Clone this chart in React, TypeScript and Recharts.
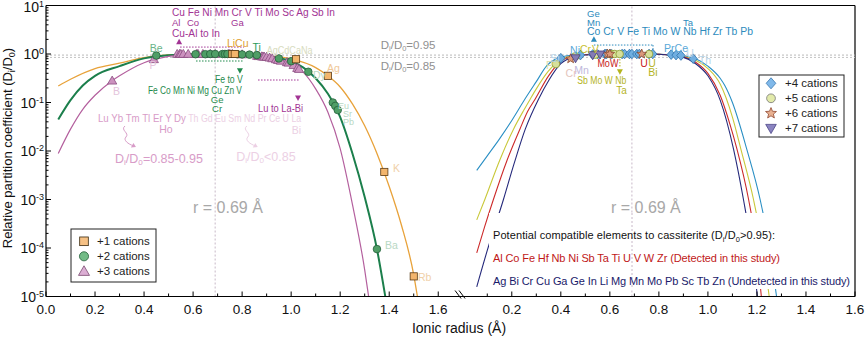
import React from 'react';
import { ComposedChart, Line, Scatter, XAxis, YAxis, ReferenceLine, ReferenceDot } from 'recharts';

const FONT = '"Liberation Sans", Arial, Helvetica, sans-serif';
const RIGHT_OFFSET = 1.7; // zero of the right panel on the shared x scale
const BREAK_X = 1.689;
const X_MAX = 3.3;

// ---------- fitted curves [ionic radius, D/D0] ----------
const curvePlus1: [number, number][] = [
  [0.05, 0.219], [0.1, 0.302], [0.2, 0.501], [0.3, 0.646], [0.4, 0.841], [0.5, 0.955], [0.6, 0.99], [0.7, 1.0],
  [0.8, 0.977], [0.9, 0.912], [1.0, 0.794], [1.1, 0.525], [1.15, 0.355], [1.2, 0.209], [1.25, 0.0933],
  [1.3, 0.0331], [1.35, 0.00891], [1.4, 0.00186], [1.45, 0.000295], [1.5, 2.8e-5], [1.515, 1e-5],
];
const curvePlus2: [number, number][] = [
  [0.05, 0.0447], [0.1, 0.112], [0.15, 0.224], [0.2, 0.355], [0.3, 0.562], [0.4, 0.813], [0.5, 0.944], [0.6, 0.99],
  [0.7, 1.0], [0.8, 0.977], [0.9, 0.891], [1.0, 0.708], [1.05, 0.525], [1.1, 0.316], [1.15, 0.151], [1.2, 0.0501],
  [1.25, 0.00891], [1.3, 0.00112], [1.35, 9.5e-5], [1.384, 1e-5],
];
const curvePlus3: [number, number][] = [
  [0.05, 0.00891], [0.1, 0.0282], [0.15, 0.0724], [0.2, 0.141], [0.27, 0.282], [0.3, 0.355], [0.4, 0.661],
  [0.5, 0.891], [0.6, 0.989], [0.7, 1.0], [0.8, 0.977], [0.9, 0.871], [1.0, 0.631], [1.05, 0.417], [1.1, 0.191],
  [1.15, 0.0631], [1.2, 0.0112], [1.25, 0.000794], [1.3, 3.55e-5], [1.316, 1e-5],
];
const curvePlus4: [number, number][] = [
  [0.057, 0.00398], [0.1, 0.00794], [0.15, 0.0178], [0.2, 0.0427], [0.25, 0.11], [0.3, 0.269], [0.343, 0.575],
  [0.38, 0.794], [0.42, 0.912], [0.5, 0.977], [0.6, 1.0], [0.7, 1.0], [0.8, 0.99], [0.9, 0.912], [0.95, 0.794],
  [1.0, 0.562], [1.05, 0.316], [1.07, 0.219], [1.1, 0.1], [1.159, 0.0107], [1.213, 0.001], [1.25, 0.000112], [1.28, 1e-5],
];
const curvePlus5: [number, number][] = [
  [0.057, 0.00038], [0.09, 0.001], [0.15, 0.00631], [0.207, 0.0282], [0.25, 0.0708], [0.275, 0.117], [0.3, 0.191],
  [0.35, 0.447], [0.4, 0.759], [0.45, 0.912], [0.5, 0.977], [0.6, 1.0], [0.7, 1.0], [0.8, 0.99], [0.9, 0.891],
  [0.95, 0.741], [1.0, 0.501], [1.05, 0.24], [1.1, 0.0501], [1.135, 0.0107], [1.186, 0.001], [1.22, 0.000126], [1.25, 1e-5],
];
const curvePlus6: [number, number][] = [
  [0.057, 7.94e-5], [0.09, 0.000282], [0.125, 0.001], [0.18, 0.00631], [0.233, 0.0282], [0.265, 0.0661], [0.295, 0.117],
  [0.35, 0.355], [0.4, 0.708], [0.45, 0.891], [0.5, 0.966], [0.6, 1.0], [0.7, 1.0], [0.8, 0.99], [0.9, 0.871],
  [0.95, 0.676], [1.0, 0.398], [1.05, 0.141], [1.09, 0.0355], [1.118, 0.0112], [1.166, 0.001], [1.19, 0.0002], [1.218, 1e-5],
];
const curvePlus7: [number, number][] = [
  [0.057, 1.58e-5], [0.1, 8.91e-5], [0.166, 0.001], [0.21, 0.00562], [0.255, 0.0282], [0.309, 0.117], [0.35, 0.282],
  [0.4, 0.631], [0.45, 0.871], [0.5, 0.955], [0.6, 1.0], [0.7, 1.0], [0.8, 0.99], [0.9, 0.851], [0.95, 0.631],
  [1.0, 0.355], [1.05, 0.112], [1.105, 0.0107], [1.145, 0.001], [1.175, 0.000126], [1.202, 1e-5],
];

// ---------- measured elements [ionic radius, D/D0] ----------
const pointsPlus1: [number, number][] = [[0.76, 1.0], [0.77, 1.0], [1.02, 0.78], [1.15, 0.355], [1.38, 0.0037], [1.5, 2.6e-5]];
const pointsPlus2: [number, number][] = [
  [0.45, 0.93], [0.61, 0.99], [0.65, 0.99], [0.67, 1.0], [0.69, 1.0], [0.72, 1.0], [0.73, 1.0], [0.74, 1.0],
  [0.78, 0.99], [0.8, 0.98], [0.83, 0.97], [0.86, 0.95], [0.95, 0.81], [1.0, 0.71], [1.07, 0.43], [1.17, 0.1],
  [1.18, 0.085], [1.19, 0.07], [1.35, 9.5e-5],
];
const pointsPlus3: [number, number][] = [
  [0.27, 0.282], [0.44, 0.78], [0.535, 1.0], [0.545, 1.0], [0.55, 1.0], [0.56, 1.0], [0.58, 1.0], [0.615, 1.0],
  [0.62, 1.0], [0.64, 1.0], [0.67, 1.0], [0.69, 1.0], [0.745, 1.0], [0.75, 1.0], [0.76, 1.0], [0.8, 0.98],
  [0.861, 0.912], [0.868, 0.902], [0.88, 0.891], [0.885, 0.885], [0.89, 0.88], [0.9, 0.871], [0.912, 0.841],
  [0.923, 0.813], [0.938, 0.776], [0.947, 0.75], [0.958, 0.724], [0.983, 0.676], [0.99, 0.661], [1.01, 0.589],
  [1.025, 0.513], [1.032, 0.49],
];
const pointsPlus4: [number, number][] = [
  [0.4, 0.82], [0.48, 0.95], [0.53, 0.98], [0.55, 0.99], [0.58, 1.0], [0.585, 1.0], [0.605, 1.0], [0.65, 1.0],
  [0.66, 1.0], [0.68, 1.0], [0.69, 1.0], [0.71, 1.0], [0.72, 1.0], [0.76, 1.0], [0.775, 1.0], [0.85, 0.97],
  [0.87, 0.95], [0.89, 0.93], [0.94, 0.8],
];
const pointsPlus5: [number, number][] = [[0.38, 0.62], [0.46, 0.9], [0.54, 0.97], [0.6, 1.0], [0.61, 1.0], [0.62, 1.0], [0.64, 1.0], [0.76, 1.0]];
const pointsPlus6: [number, number][] = [[0.44, 0.8], [0.59, 1.0], [0.6, 1.0], [0.73, 1.0]];
const pointsPlus7: [number, number][] = [[0.46, 0.82], [0.53, 0.95], [0.56, 0.98]];

// ---------- ticks ----------
const xTicksLeft = [0, 0.1, 0.2, 0.3, 0.4, 0.5, 0.6, 0.7, 0.8, 0.9, 1.0, 1.1, 1.2, 1.3, 1.4, 1.5, 1.6];
const xTicksRight = [0.1, 0.2, 0.3, 0.4, 0.5, 0.6, 0.7, 0.8, 0.9, 1.0, 1.1, 1.2, 1.3, 1.4, 1.5, 1.6];
const yDecades = [1e-5, 1e-4, 1e-3, 1e-2, 1e-1, 1, 10];
const yMinorMult = [2, 3, 4, 5, 6, 7, 8, 9];

const toPts = (arr: [number, number][], off = 0) => arr.map(([r, d]) => ({ r: +(r + off).toFixed(4), d }));

const xTicks = [...xTicksLeft, ...xTicksRight.map((t) => +(t + RIGHT_OFFSET).toFixed(4))];
const yTicks = [
  ...yDecades,
  ...yDecades.slice(0, -1).flatMap((d) => yMinorMult.map((m) => +(d * m).toPrecision(3))),
].sort((a, b) => a - b);

// colours
const MAG = '#a23494';
const GREEN_T = '#1f8a4c';
const TEAL = '#2d8bbd';
const YEL = '#b4b41e';

const dd = (rest: string, s: number) => (
  <>
    D<tspan dy={3} fontSize={s * 0.65}>i</tspan>
    <tspan dy={-3}>/D</tspan>
    <tspan dy={3} fontSize={s * 0.65}>0</tspan>
    <tspan dy={-3}>{rest}</tspan>
  </>
);

type Ann = { x: number; y: number; t: React.ReactNode; c: string; s?: number; a?: 'start' | 'middle' | 'end'; len?: number };

const annotations: Ann[] = [
  { x: 0.514, y: 7.1, t: 'Cu Fe Ni Mn Cr V Ti Mo Sc Ag Sb In', c: MAG, len: 163, s: 10 },
  { x: 0.514, y: 4.42, t: 'Al', c: MAG, s: 9.5 },
  { x: 0.575, y: 4.42, t: 'Co', c: MAG, s: 9.5 },
  { x: 0.755, y: 4.42, t: 'Ga', c: MAG, s: 9.5 },
  { x: 0.514, y: 2.67, t: 'Cu-Al to In', c: MAG, len: 48, s: 10 },
  { x: 0.738, y: 1.71, t: 'LiCu', c: '#e0a030' },
  { x: 0.449, y: 1.31, t: 'Be', c: '#6ab488', a: 'middle' },
  { x: 0.436, y: 0.593, t: 'P', c: '#e4c4dc', a: 'middle' },
  { x: 0.859, y: 1.41, t: 'Ti', c: '#2a9a5a', a: 'middle' },
  { x: 0.9, y: 1.21, t: 'AgCdCaNa', c: '#d8dcc0', len: 46 },
  { x: 1.146, y: 0.507, t: 'Ag', c: '#f0c898' },
  { x: 1.089, y: 0.369, t: 'Dy', c: '#b8d8c4' },
  { x: 0.689, y: 0.301, t: 'Fe to V', c: GREEN_T, len: 28 },
  { x: 0.416, y: 0.181, t: 'Fe Co Mn Ni Mg Cu Zn V', c: GREEN_T, len: 94, s: 10 },
  { x: 0.698, y: 0.113, t: 'Ge', c: GREEN_T, a: 'middle', s: 9.5 },
  { x: 0.698, y: 0.0735, t: 'Cr', c: GREEN_T, a: 'middle', s: 9.5 },
  { x: 0.865, y: 0.077, t: 'Lu to La-Bi', c: MAG, len: 45 },
  { x: 0.212, y: 0.0479, t: 'Lu Yb Tm Tl Er Y Dy', c: '#d89cc8', len: 88 },
  { x: 0.58, y: 0.0479, t: 'Th Gd Eu Sm Nd Pr Ce U La', c: '#ecd0e4', len: 113 },
  { x: 0.489, y: 0.028, t: 'Ho', c: '#d89cc8', a: 'middle' },
  { x: 1.022, y: 0.0271, t: 'Bi', c: '#ecd0e4', a: 'middle' },
  { x: 0.461, y: 0.00675, t: dd('=0.85-0.95', 12.5), c: '#d89cc8', s: 12.5, a: 'middle' },
  { x: 0.897, y: 0.00762, t: dd('<0.85', 12.5), c: '#ecd0e4', s: 12.5, a: 'middle' },
  { x: 0.742, y: 0.0007, t: 'r = 0.69 Å', c: '#a8a8a8', s: 16, a: 'middle' },
  { x: 1.477, y: 1.53, t: dd('=0.95', 11.5), c: '#909090', s: 11.5, a: 'middle' },
  { x: 1.477, y: 0.566, t: dd('=0.85', 11.5), c: '#909090', s: 11.5, a: 'middle' },
  { x: 1.415, y: 0.00446, t: 'K', c: '#f0d0a8' },
  { x: 1.383, y: 1.15e-4, t: 'Ba', c: '#b8d8c4' },
  { x: 1.517, y: 2.52e-5, t: 'Rb', c: '#f0d0a8' },
  { x: 1.191, y: 0.0847, t: 'Eu', c: '#b8d8c4', s: 9 },
  { x: 1.211, y: 0.0581, t: 'Sr', c: '#b8d8c4', s: 9 },
  { x: 1.211, y: 0.0397, t: 'Pb', c: '#b8d8c4', s: 9 },
  { x: 0.273, y: 0.175, t: 'B', c: '#e4c4dc' },
  // right panel
  { x: 2.207, y: 6.9, t: 'Ge', c: TEAL, s: 9.5 },
  { x: 2.207, y: 4.42, t: 'Mn', c: TEAL, s: 9.5 },
  { x: 2.207, y: 2.88, t: 'Co Cr V Fe Ti Mo W Nb Hf Zr Tb Pb', c: TEAL, len: 166, s: 10 },
  { x: 2.619, y: 4.42, t: 'Ta', c: TEAL, a: 'middle', s: 9.5 },
  { x: 2.158, y: 1.21, t: 'Ni', c: '#5aa8d8', a: 'middle' },
  { x: 2.201, y: 1.25, t: 'Cr', c: '#c8c030', a: 'middle' },
  { x: 2.242, y: 1.25, t: 'V', c: '#c8c030', a: 'middle' },
  { x: 2.076, y: 0.827, t: 'Si', c: '#b8d4e8', a: 'middle' },
  { x: 2.054, y: 0.593, t: 'P', c: '#dcdca8', a: 'middle' },
  { x: 2.185, y: 0.468, t: 'Mn', c: '#c0b8dc', a: 'middle' },
  { x: 2.142, y: 0.4, t: 'Cr', c: '#e4c4bc', a: 'middle' },
  { x: 2.292, y: 0.662, t: 'MoW', c: '#c82020', a: 'middle', len: 21 },
  { x: 2.439, y: 0.662, t: 'U', c: '#c82020', a: 'middle' },
  { x: 2.472, y: 0.662, t: 'U', c: YEL, a: 'middle' },
  { x: 2.476, y: 0.42, t: 'Bi', c: YEL, a: 'middle' },
  { x: 2.167, y: 0.291, t: 'Sb Mo W Nb', c: YEL, len: 49, s: 10 },
  { x: 2.348, y: 0.18, t: 'Ta', c: YEL, a: 'middle', s: 10 },
  { x: 2.57, y: 1.31, t: 'PrCe', c: '#5aa8d8', a: 'middle' },
  { x: 2.627, y: 1.06, t: 'U', c: '#b8d4e8', a: 'middle' },
  { x: 2.688, y: 0.752, t: 'Th', c: '#b8d4e8', a: 'middle' },
  { x: 2.447, y: 0.0007, t: 'r = 0.69 Å', c: '#a8a8a8', s: 16, a: 'middle' },
];

const pointers = [
  { x: 0.543, y: 1.79, up: true, c: MAG },
  { x: 0.791, y: 0.453, up: false, c: GREEN_T },
  { x: 1.028, y: 0.124, up: false, c: MAG },
  { x: 2.235, y: 2.01, up: true, c: TEAL },
  { x: 2.341, y: 0.432, up: false, c: YEL },
];

const brackets = [
  { a: [0.547, 1.39], b: [0.808, 1.39], c: MAG },
  { a: [0.612, 0.717], b: [0.804, 0.717], c: GREEN_T },
  { a: [0.865, 0.291], b: [1.036, 0.291], c: MAG },
  { a: [2.235, 1.53], b: [2.476, 1.53], c: TEAL },
  { a: [2.476, 1.53], b: [2.476, 1.05], c: TEAL },
  { a: [2.341, 0.91], b: [2.341, 0.515], c: YEL },
];

const curlyArrows = [
  { x: 0.322, y: 0.0327, c: '#d89cc8' },
  { x: 0.819, y: 0.0327, c: '#ecd0e4' },
];

// ---------- marker drawing ----------
type Kind = 'square' | 'circle' | 'tri' | 'diamond' | 'star' | 'itri';
const drawMarker = (kind: Kind, cx: number, cy: number, fill: string, stroke: string, s = 1, key?: any) => {
  const sw = 0.8;
  switch (kind) {
    case 'square':
      return <rect key={key} x={cx - 3.6 * s} y={cy - 3.6 * s} width={7.2 * s} height={7.2 * s} fill={fill} stroke={stroke} strokeWidth={sw} />;
    case 'circle':
      return <circle key={key} cx={cx} cy={cy} r={3.8 * s} fill={fill} stroke={stroke} strokeWidth={sw} />;
    case 'tri':
      return <polygon key={key} points={`${cx},${cy - 4.6 * s} ${cx - 4.6 * s},${cy + 3.4 * s} ${cx + 4.6 * s},${cy + 3.4 * s}`} fill={fill} stroke={stroke} strokeWidth={sw} />;
    case 'itri':
      return <polygon key={key} points={`${cx},${cy + 4.6 * s} ${cx - 4.6 * s},${cy - 3.4 * s} ${cx + 4.6 * s},${cy - 3.4 * s}`} fill={fill} stroke={stroke} strokeWidth={sw} />;
    case 'diamond':
      return <polygon key={key} points={`${cx},${cy - 4.8 * s} ${cx + 4.2 * s},${cy} ${cx},${cy + 4.8 * s} ${cx - 4.2 * s},${cy}`} fill={fill} stroke={stroke} strokeWidth={sw} />;
    case 'star': {
      const pts: string[] = [];
      for (let i = 0; i < 10; i++) {
        const rad = (i % 2 === 0 ? 5 : 2.2) * s;
        const ang = -Math.PI / 2 + (i * Math.PI) / 5;
        pts.push(`${cx + rad * Math.cos(ang)},${cy + rad * Math.sin(ang)}`);
      }
      return <polygon key={key} points={pts.join(' ')} fill={fill} stroke={stroke} strokeWidth={sw} />;
    }
  }
  return null;
};
const markerShape = (kind: Kind, fill: string, stroke: string) => (p: any) =>
  p.cx == null ? <g /> : (drawMarker(kind, p.cx, p.cy, fill, stroke) as any);

// ---------- ticks ----------
const XTick = (props: any) => {
  const { x, y, payload } = props;
  const v: number = payload.value;
  const local = v > BREAK_X ? v - RIGHT_OFFSET : v;
  const tenth = Math.round(local * 10);
  const major = tenth % 2 === 0;
  return (
    <g>
      <line x1={x} x2={x} y1={y} y2={y - (major ? 5 : 3)} stroke="#000" strokeWidth={1} />
      {major && (
        <text x={x} y={y + 17.5} textAnchor="middle" fontSize={13.5} fill="#111" fontFamily={FONT}>
          {(tenth / 10).toFixed(1)}
        </text>
      )}
    </g>
  );
};

const YTick = (props: any) => {
  const { x, y, payload } = props;
  const v: number = payload.value;
  const major = yDecades.some((d) => Math.abs(v / d - 1) < 1e-6);
  const e = Math.round(Math.log10(v));
  const top = e === 1;
  return (
    <g>
      <line x1={x} x2={x + (major ? 5 : 2.5)} y1={y} y2={y} stroke="#000" strokeWidth={1} />
      {major && (
        <text x={x - 2} y={y + (top ? 6 : 5)} textAnchor="end" fontSize={14} fill="#111" fontFamily={FONT}>
          10
          <tspan dy={-5} fontSize={9}>
            {e}
          </tspan>
        </text>
      )}
    </g>
  );
};

const series = [
  { pts: toPts(curvePlus1), color: '#e8a23a', w: 1.3 },
  { pts: toPts(curvePlus2), color: '#1c7f4c', w: 2 },
  { pts: toPts(curvePlus3), color: '#b4609e', w: 1.2 },
  { pts: toPts(curvePlus4, RIGHT_OFFSET), color: '#2a8fc4', w: 1.1 },
  { pts: toPts(curvePlus5, RIGHT_OFFSET), color: '#c9c83a', w: 1.1 },
  { pts: toPts(curvePlus6, RIGHT_OFFSET), color: '#cc2a2a', w: 1.1 },
  { pts: toPts(curvePlus7, RIGHT_OFFSET), color: '#262a7c', w: 1.1 },
];

const scatters = [
  { pts: toPts(pointsPlus3), kind: 'tri' as Kind, fill: '#cc92bf', stroke: '#8a4c80' },
  { pts: toPts(pointsPlus2), kind: 'circle' as Kind, fill: '#4f9e66', stroke: '#24603a' },
  { pts: toPts(pointsPlus1), kind: 'square' as Kind, fill: '#f3b56c', stroke: '#5a3a14' },
  { pts: toPts(pointsPlus4, RIGHT_OFFSET), kind: 'diamond' as Kind, fill: '#6faee0', stroke: '#2f72ab' },
  { pts: toPts(pointsPlus5, RIGHT_OFFSET), kind: 'circle' as Kind, fill: '#d6e09a', stroke: '#8a9a30' },
  { pts: toPts(pointsPlus6, RIGHT_OFFSET), kind: 'star' as Kind, fill: '#dc9a7c', stroke: '#8a4a30' },
  { pts: toPts(pointsPlus7, RIGHT_OFFSET), kind: 'itri' as Kind, fill: '#847cb4', stroke: '#463e80' },
];

const legendLeft = [
  { kind: 'square' as Kind, fill: '#f6c185', stroke: '#3a2a10', label: '+1 cations' },
  { kind: 'circle' as Kind, fill: '#72bb86', stroke: '#24603a', label: '+2 cations' },
  { kind: 'tri' as Kind, fill: '#dcaed4', stroke: '#7a4a70', label: '+3 cations' },
];
const legendRight = [
  { kind: 'diamond' as Kind, fill: '#80b9ea', stroke: '#3a78b0', label: '+4 cations' },
  { kind: 'circle' as Kind, fill: '#e2eaaa', stroke: '#777', label: '+5 cations' },
  { kind: 'star' as Kind, fill: '#e8b090', stroke: '#904830', label: '+6 cations' },
  { kind: 'itri' as Kind, fill: '#8a84c0', stroke: '#4a4488', label: '+7 cations' },
];

export default function App() {
  return (
    <div style={{ position: 'relative', width: 866, height: 338, background: '#fff' }}>
      <style>{'body{margin:0;}'}</style>
      <ComposedChart width={866} height={338} margin={{ top: 5.5, right: 11, left: 0, bottom: 0 }}>
        <XAxis
          dataKey="r"
          type="number"
          domain={[0, X_MAX]}
          allowDataOverflow
          ticks={xTicks}
          interval={0}
          tick={<XTick />}
          tickLine={false}
          tickSize={0}
          tickMargin={0}
          height={41.5}
          axisLine={{ stroke: '#000', strokeWidth: 1.2 }}
        />
        <YAxis
          dataKey="d"
          type="number"
          scale="log"
          domain={[1e-5, 10]}
          allowDataOverflow
          ticks={yTicks}
          interval={0}
          tick={<YTick />}
          tickLine={false}
          tickSize={0}
          tickMargin={0}
          width={46}
          axisLine={{ stroke: '#000', strokeWidth: 1.2 }}
        />
        <ReferenceLine y={10} stroke="#000" strokeWidth={1.2} ifOverflow="visible" />
        <ReferenceLine x={X_MAX} stroke="#000" strokeWidth={1.2} ifOverflow="visible" />
        <ReferenceLine y={0.95} stroke="#b8b8b8" strokeDasharray="2 2" />
        <ReferenceLine y={0.85} stroke="#c4c4c4" strokeDasharray="2 2" />
        <ReferenceLine x={0.69} stroke="#c8b8c8" strokeDasharray="2 2" />
        <ReferenceLine x={0.69 + RIGHT_OFFSET} stroke="#c8b8c8" strokeDasharray="2 2" />

        {series.map((s, i) => (
          <Line
            key={'l' + i}
            data={s.pts}
            dataKey="d"
            type="monotone"
            stroke={s.color}
            strokeWidth={s.w}
            dot={false}
            activeDot={false}
            isAnimationActive={false}
          />
        ))}
        {scatters.map((s, i) => (
          <Scatter
            key={'s' + i}
            data={s.pts}
            dataKey="d"
            shape={markerShape(s.kind, s.fill, s.stroke)}
            isAnimationActive={false}
          />
        ))}

        {brackets.map((b, i) => (
          <ReferenceLine
            key={'b' + i}
            segment={[{ x: b.a[0], y: b.a[1] }, { x: b.b[0], y: b.b[1] }]}
            stroke={b.c}
            strokeDasharray="1.5 1.5"
            ifOverflow="visible"
          />
        ))}
        {pointers.map((p, i) => (
          <ReferenceDot
            key={'p' + i}
            x={p.x}
            y={p.y}
            ifOverflow="visible"
            shape={(q: any) => (
              <polygon
                points={
                  p.up
                    ? `${q.cx},${q.cy - 3} ${q.cx - 3},${q.cy + 2.5} ${q.cx + 3},${q.cy + 2.5}`
                    : `${q.cx},${q.cy + 3} ${q.cx - 3},${q.cy - 2.5} ${q.cx + 3},${q.cy - 2.5}`
                }
                fill={p.c}
              />
            )}
          />
        ))}
        {curlyArrows.map((a, i) => (
          <ReferenceDot
            key={'ca' + i}
            x={a.x}
            y={a.y}
            ifOverflow="visible"
            shape={(q: any) => (
              <g transform={`translate(${q.cx},${q.cy})`}>
                <path d="M0,0 C-5,4 5,7 1,11 C-2,14 3,18 9,20" fill="none" stroke={a.c} strokeWidth={1} />
                <polygon points="11,21 6,21.5 8.5,17" fill={a.c} />
              </g>
            )}
          />
        ))}
        {annotations.map((a, i) => (
          <ReferenceDot
            key={'a' + i}
            x={a.x}
            y={a.y}
            ifOverflow="visible"
            shape={(q: any) => (
              <text
                x={q.cx}
                y={q.cy}
                fill={a.c}
                fontSize={a.s ?? 10.5}
                fontFamily={FONT}
                textAnchor={a.a ?? 'start'}
                dominantBaseline="central"
                textLength={a.len}
                lengthAdjust={a.len ? 'spacingAndGlyphs' : undefined}
              >
                {a.t}
              </text>
            )}
          />
        ))}
        <ReferenceDot
          x={BREAK_X}
          y={1e-5}
          ifOverflow="visible"
          shape={(q: any) => (
            <g stroke="#000" strokeWidth={1}>
              <line x1={q.cx - 5} y1={q.cy - 6} x2={q.cx + 1} y2={q.cy + 2} />
              <line x1={q.cx - 1} y1={q.cy - 6} x2={q.cx + 5} y2={q.cy + 2} />
            </g>
          )}
        />
      </ComposedChart>

      <svg
        width={866}
        height={338}
        style={{ position: 'absolute', left: 0, top: 0, pointerEvents: 'none' }}
        fontFamily={FONT}
      >
        {/* axis titles */}
        <text transform="translate(12,148) rotate(-90)" textAnchor="middle" fontSize={13} fill="#111">
          Relative partition coefficient (D<tspan dy={3} fontSize={9}>i</tspan>
          <tspan dy={-3}>/D</tspan>
          <tspan dy={3} fontSize={9}>0</tspan>
          <tspan dy={-3}>)</tspan>
        </text>
        <text x={459} y={333} textAnchor="middle" fontSize={14} fill="#111">
          Ionic radius (Å)
        </text>

        {/* text box in right panel */}
        <rect x={489} y={213} width={365} height={76} fill="#fff" />
        <line x1={632} x2={632} y1={213} y2={289} stroke="#c8b8c8" strokeDasharray="2 2" />
        <text x={493} y={239} fontSize={11} fill="#111" textLength={282} lengthAdjust="spacing">
          Potential compatible elements to cassiterite (D<tspan dy={2.5} fontSize={7.5}>i</tspan>
          <tspan dy={-2.5}>/D</tspan>
          <tspan dy={2.5} fontSize={7.5}>0</tspan>
          <tspan dy={-2.5}>{'>0.95):'}</tspan>
        </text>
        <text x={493} y={262} fontSize={11} fill="#c01818" textLength={287} lengthAdjust="spacing">
          Al Co Fe Hf Nb Ni Sb Ta Ti U V W Zr (Detected in this study)
        </text>
        <text x={493} y={285} fontSize={11} fill="#1a1a6a" textLength={357} lengthAdjust="spacing">
          Ag Bi Cr Cu Ga Ge In Li Mg Mn Mo Pb Sc Tb Zn (Undetected in this study)
        </text>

        {/* left legend */}
        <rect x={71} y={229} width={85} height={53} fill="#fff" stroke="#222" strokeWidth={1} />
        {legendLeft.map((l, i) => (
          <g key={'ll' + i}>
            {drawMarker(l.kind, 84, 241.3 + i * 15, l.fill, l.stroke, 1.2)}
            <text x={97} y={245.3 + i * 15} fontSize={11.5} fill="#222">
              {l.label}
            </text>
          </g>
        ))}

        {/* right legend */}
        <rect x={759} y={75} width={85} height={62} fill="#fff" stroke="#222" strokeWidth={1} />
        {legendRight.map((l, i) => (
          <g key={'lr' + i}>
            {drawMarker(l.kind, 771, 83.3 + i * 15, l.fill, l.stroke, 1.15)}
            <text x={785} y={87.3 + i * 15} fontSize={11.5} fill="#222">
              {l.label}
            </text>
          </g>
        ))}
      </svg>
    </div>
  );
}
